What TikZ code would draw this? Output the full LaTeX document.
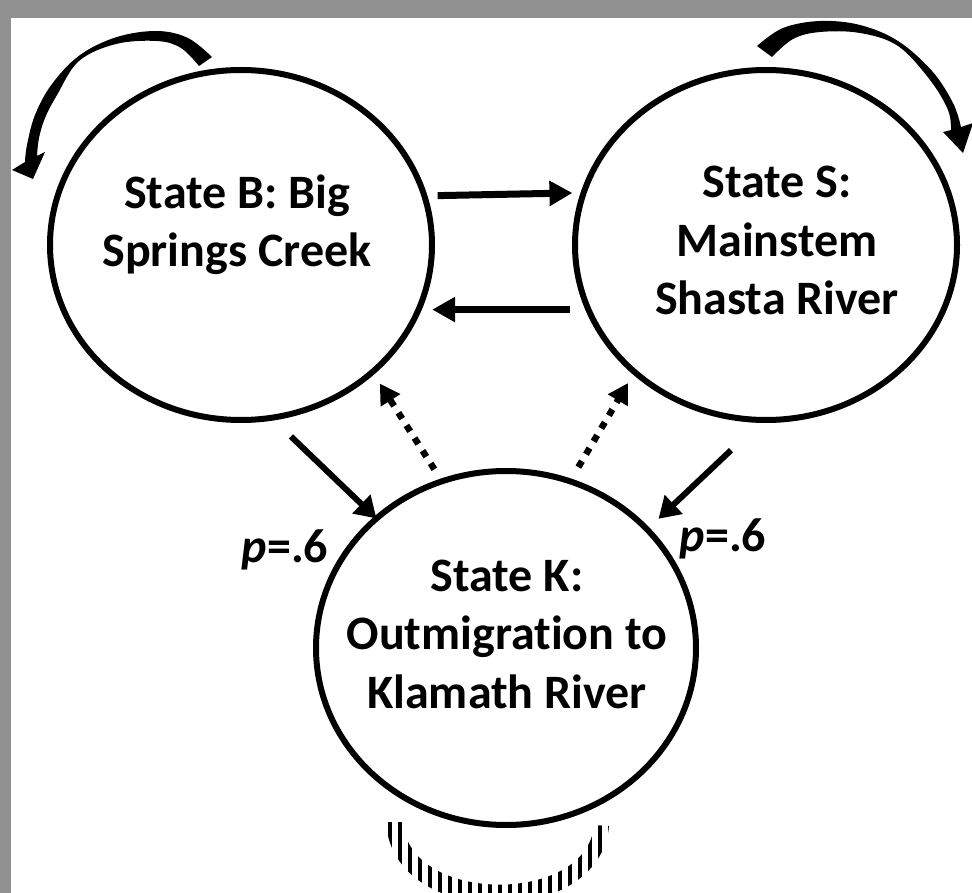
\documentclass[tikz,border=0pt]{standalone}
\usepackage{fontspec}
\setmainfont[Ligatures={NoCommon}]{Carlito}
\usetikzlibrary{arrows.meta,shapes.geometric,patterns.meta}
\definecolor{framegray}{HTML}{909090}
\begin{document}
\begin{tikzpicture}[x=1pt,y=-1pt,
  state/.style={ellipse, draw=black, line width=6pt, inner sep=0pt, outer sep=0pt},
  stext/.style={font=\fontsize{48}{58.5}\selectfont\bfseries, align=center, anchor=base, inner sep=0pt},
  hmove/.style={line width=7pt, -{Triangle[length=23pt,width=24pt]}},
  dmove/.style={line width=6pt, -{Triangle[length=21pt,width=25pt]}},
  back/.style={line width=6.5pt, dash pattern=on 7pt off 8pt, -{Triangle[length=20pt,width=22pt]}},
  loopfill/.style={fill=black}
]
% frame and page
\useasboundingbox (0,0) rectangle (972,893);
\fill[framegray] (0,0) rectangle (972,893);
\fill[white] (11,18) rectangle (972,893);

% states
\node[state, minimum width=382pt, minimum height=350pt] (B) at (241,245) {};
\node[state, minimum width=382pt, minimum height=350pt] (S) at (766,245) {};
\node[state, minimum width=380pt, minimum height=354pt] (K) at (506,648) {};

% state names (anchored at the baseline of the last line)
\node[stext] (Btext) at (237,267) {State B: Big\\Springs Creek};
\node[stext] (Stext) at (777,315) {State S:\\Mainstem\\Shasta River};
\node[stext] (Ktext) at (507,708) {State K:\\Outmigration to\\Klamath River};

% transition probabilities
\node[stext] (pB) at (285,562) {\textit{p}=.6};
\node[stext] (pS) at (723,551) {\textit{p}=.6};

% transitions between B and S
\draw[hmove, shorten <=13.3pt, shorten >=11.3pt] (B.15.6) -- (S.164.4);
\draw[hmove, shorten <=18.7pt, shorten >=13.7pt] (S.200.1) -- (B.-20.1);

% outmigration
\draw[dmove, shorten <=27pt] (B.-80.3) -- (K.135.7);
\draw[dmove, shorten <=44pt, shorten >=15.6pt] (S.-91.3) -- (K.40.3);

% returns from K
\draw[back, shorten <=14.3pt, shorten >=13.7pt] (K.111.8) -- (B.-44.7);
\draw[back, shorten <=16.5pt, shorten >=12.9pt] (K.69.1) -- (S.224);

% self transition of B
\fill[loopfill] plot[smooth, tension=0.6] coordinates
  {(212,57) (188,38) (157,31) (117,37) (80,55) (52,84) (35,115) (27,145) (25,162)}
  -- (12,170) -- (33,179) -- (45,152)
  -- plot[smooth, tension=0.6] coordinates
  {(37,156) (39,138) (45,118) (57,95) (79,61) (116,44) (157,41) (181,48) (199,66)}
  -- cycle;

% self transition of S
\fill[loopfill] plot[smooth, tension=0.6] coordinates
  {(757,46) (783,28) (820,21) (860,25) (898,41) (932,71) (953,103) (961,127)}
  -- (973,123) -- (963,153) -- (943,132)
  -- plot[smooth, tension=0.6] coordinates
  {(951,130) (948,110) (930,80) (898,46) (860,33) (820,32) (793,39) (772,57)}
  -- cycle;

% self transition of K (striped)
\begin{scope}
  \clip (0,0) rectangle (972,893);
  \path[pattern={Lines[angle=90,distance=10pt,line width=4.5pt]}, pattern color=black]
    (386,822) .. controls (392,930) and (600,930) .. (609,826)
    -- (594,825) .. controls (588,905) and (408,905) .. (403,822) -- cycle;
\end{scope}
\end{tikzpicture}
\end{document}
